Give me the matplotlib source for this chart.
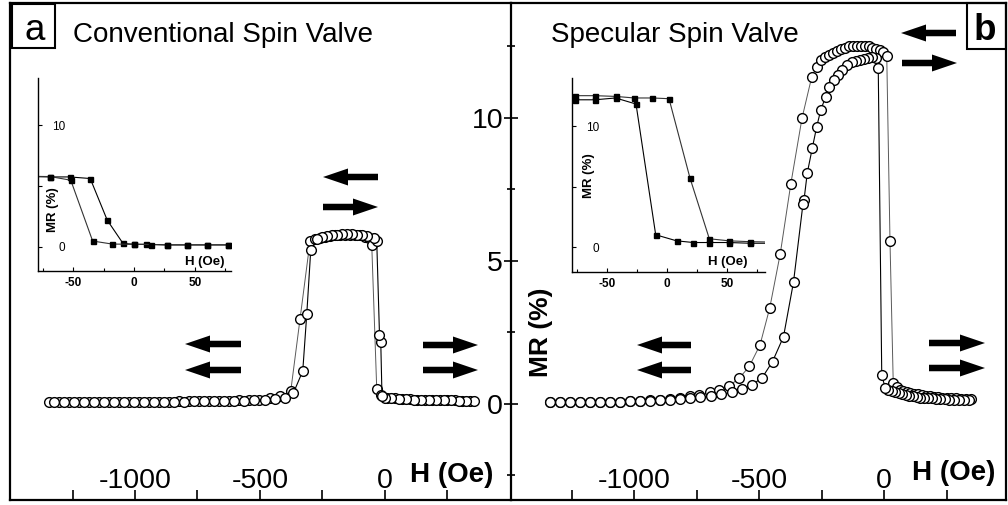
import matplotlib
matplotlib.use("Agg")
import matplotlib.pyplot as plt
from matplotlib.patches import FancyArrow, Rectangle
from matplotlib.transforms import Affine2D

plt.rcParams['font.family'] = ['Liberation Sans', 'DejaVu Sans']

W, H = 1008, 505

# --- panel a: conventional spin valve (main loop) ---
conv_h_up = [-1345, -1305, -1265, -1225, -1185, -1145, -1105, -1065, -1025, -985, -945, -905,
             -865, -825, -785, -745, -705, -665, -625, -585, -545, -505, -460, -420,
             -377, -340, -300,
             -280, -260, -240, -220, -200, -180, -160, -140, -120, -100, -80, -65,
             -53, -33,
             -15, 10, 40, 70, 100, 130, 160, 190, 220, 250, 280, 310, 340]
conv_mr_up = [0.07, 0.07, 0.07, 0.07, 0.07, 0.07, 0.07, 0.07, 0.07, 0.08, 0.08, 0.08,
              0.08, 0.09, 0.09, 0.1, 0.1, 0.11, 0.11, 0.12, 0.13, 0.15, 0.2, 0.26,
              0.45, 2.96, 5.68,
              5.76, 5.81, 5.85, 5.88, 5.9, 5.91, 5.92, 5.92, 5.91, 5.89, 5.85, 5.8,
              5.56, 0.51,
              0.3, 0.22, 0.19, 0.17, 0.16, 0.15, 0.14, 0.13, 0.13, 0.12, 0.12, 0.11, 0.11]
conv_h_down = [355, 325, 295, 265, 235, 205, 175, 145, 115, 85, 55, 25, 0, -12,
               -17, -22, -33,
               -45, -70, -90, -110, -130, -150, -170, -190, -210, -230, -250, -270,
               -297, -313, -329, -367,
               -400, -440, -480, -525, -565, -605, -645, -685, -725, -765, -805, -845,
               -885, -925, -965, -1005, -1045, -1085, -1125, -1165, -1205, -1245, -1285, -1325]
conv_mr_down = [0.1, 0.11, 0.11, 0.12, 0.12, 0.13, 0.13, 0.14, 0.15, 0.16, 0.17, 0.19, 0.22, 0.26,
                2.18, 2.41, 5.68,
                5.8, 5.86, 5.9, 5.92, 5.93, 5.93, 5.93, 5.92, 5.9, 5.87, 5.83, 5.76,
                5.38, 3.13, 1.15, 0.37,
                0.22, 0.17, 0.14, 0.12, 0.11, 0.1, 0.1, 0.09, 0.09, 0.09, 0.08, 0.08,
                0.08, 0.08, 0.07, 0.07, 0.07, 0.07, 0.07, 0.07, 0.07, 0.07, 0.07, 0.07]

# --- panel b: specular spin valve (main loop) ---
spec_h_up = [-1336, -1296, -1256, -1216, -1176, -1136, -1096, -1056, -1016, -976, -936, -896,
             -856, -816, -776, -739, -696, -659, -619, -579, -539,
             -496, -457, -415, -373, -328, -289, -269, -252,
             -235, -219, -203, -188, -172, -157, -141, -125, -109, -94, -78, -62, -47, -32, -17, -3, 11,
             24, 37,
             50, 63, 77, 91, 105, 120, 135, 150, 166, 182, 198, 215, 232, 250, 268, 287, 306, 326, 346]
spec_mr_up = [0.05, 0.05, 0.05, 0.06, 0.06, 0.07, 0.07, 0.08, 0.09, 0.1, 0.12, 0.14,
              0.16, 0.2, 0.26, 0.31, 0.4, 0.49, 0.63, 0.9, 1.31,
              2.06, 3.36, 5.25, 7.68, 9.99, 11.44, 11.79, 12.03,
              12.12, 12.2, 12.28, 12.35, 12.41, 12.46, 12.5, 12.52, 12.53, 12.53, 12.52, 12.5, 12.46,
              12.42, 12.36, 12.3, 12.17,
              5.68, 0.72,
              0.58, 0.5, 0.45, 0.41, 0.38, 0.35, 0.33, 0.31, 0.29, 0.27, 0.25, 0.24, 0.22, 0.21,
              0.2, 0.19, 0.18, 0.17, 0.16]
spec_h_down = [340, 318, 298, 278, 260, 242, 225, 208, 192, 176, 160, 145, 130, 115, 100, 86,
               72, 58, 44, 30, 17, 5,
               -9, -23,
               -32, -47, -63, -80, -96, -112, -129, -149, -169, -185, -200, -220, -233, -253,
               -269, -287, -307, -320, -324,
               -362, -402, -446, -487, -529, -569, -609, -651, -693, -735, -775, -815, -855,
               -895, -935, -975, -1015, -1055, -1095, -1135, -1175, -1215, -1255, -1295, -1335]
spec_mr_down = [0.12, 0.13, 0.13, 0.14, 0.15, 0.16, 0.17, 0.18, 0.19, 0.2, 0.21, 0.22, 0.24,
                0.26, 0.28, 0.3, 0.33, 0.37, 0.41, 0.45, 0.5, 0.55,
                1.01, 11.74,
                12.1, 12.13, 12.1, 12.06, 12.03, 11.99, 11.95, 11.85, 11.68, 11.5, 11.33, 11.1,
                10.75, 10.28, 9.7, 8.94, 8.07, 7.13, 7.0,
                4.26, 2.35, 1.48, 0.92, 0.66, 0.51, 0.4, 0.34, 0.28, 0.23, 0.2, 0.17, 0.15,
                0.13, 0.11, 0.1, 0.09, 0.08, 0.07, 0.07, 0.06, 0.06, 0.05, 0.05, 0.05]

# --- insets: low field minor loops ---
ins_a_h1 = [-86, -69, -53, -36, -22, -9, 0, 10, 27, 44, 60, 77]
ins_a_mr1 = [5.78, 5.75, 5.75, 5.62, 2.19, 0.27, 0.2, 0.2, 0.15, 0.15, 0.15, 0.15]
ins_a_h2 = [-86, -69, -52, -34, -18, 0, 14, 27, 44, 60, 77]
ins_a_mr2 = [5.8, 5.78, 5.48, 0.47, 0.22, 0.2, 0.18, 0.15, 0.15, 0.15, 0.15]

ins_b_h1 = [-90, -76.7, -60, -42.8, -25.8, -9.4, 8, 22, 35.3, 51.7, 69.2, 86]
ins_b_mr1 = [12.2, 12.2, 12.2, 12.35, 11.85, 1.05, 0.55, 0.41, 0.41, 0.41, 0.35, 0.35]
ins_b_h2 = [-90, -76.7, -60, -42.8, -27.2, -12.2, 1.7, 19.2, 35.3, 51.7, 69.2, 86]
ins_b_mr2 = [12.54, 12.54, 12.54, 12.48, 12.35, 12.35, 12.29, 5.73, 0.72, 0.55, 0.48, 0.45]

main_xticks = [-1250, -1000, -750, -500, -250, 0, 250]
main_xlabels = ['', '-1000', '', '-500', '', '0', '']


def box(x0, x1, y0, y1):
    # pixel box (origin top-left) -> figure rect
    return [x0 / W, 1 - y1 / H, (x1 - x0) / W, (y1 - y0) / H]


fig = plt.figure(figsize=(W / 100, H / 100), dpi=100)
fig.patch.set_facecolor('white')
px = Affine2D().scale(1 / W, -1 / H).translate(0, 1) + fig.transFigure

axL = fig.add_axes(box(10, 511, 3, 500))
axR = fig.add_axes(box(511, 1006, 3, 500))
axL.set_xlim(-1500, 504)
axR.set_xlim(-1492, 488)

for ax in (axL, axR):
    ax.set_ylim(-3.36, 14.02)
    for s in ax.spines.values():
        s.set_linewidth(1.6)
    ax.set_xticks(main_xticks)
    ax.set_xticklabels(main_xlabels)
    ax.tick_params(axis='x', direction='in', length=7, width=1.2, pad=-23,
                   labelsize=20.5, top=False)
axL.spines['right'].set_visible(False)
axL.set_yticks([])

axR.set_yticks([0, 5, 10])
axR.set_yticks([-2.5, 2.5, 7.5, 12.5], minor=True)
axR.tick_params(axis='y', which='major', direction='inout', length=9.4, width=1.2,
                pad=1, labelsize=20.5, right=False)
axR.tick_params(axis='y', which='minor', direction='inout', length=5.8, width=1.2, right=False)

loops = [(axL, conv_h_up, conv_mr_up, conv_h_down, conv_mr_down),
         (axR, spec_h_up, spec_mr_up, spec_h_down, spec_mr_down)]
for ax, h1, m1, h2, m2 in loops:
    ax.plot(h1, m1, '-', color='0.35', lw=0.7, marker='o', ms=7,
            mfc='white', mec='black', mew=1.0, zorder=3)
    ax.plot(h2, m2, '-', color='black', lw=0.8, marker='o', ms=7,
            mfc='white', mec='black', mew=1.0, zorder=3)

# axis texts
axL.text(410, 481.7, 'H (Oe)', transform=px, fontsize=20, fontweight='bold', va='baseline')
axR.text(912, 480, 'H (Oe)', transform=px, fontsize=20, fontweight='bold', va='baseline')
axR.text(541, 332, 'MR (%)', transform=px, fontsize=19, fontweight='bold',
         rotation=90, ha='center', va='center')
axL.text(73, 41.7, 'Conventional Spin Valve', transform=px, fontsize=20, va='baseline')
axR.text(551, 41.7, 'Specular Spin Valve', transform=px, fontsize=20, va='baseline')

# panel letters
fig.add_artist(Rectangle((12, 4), 43, 44, transform=px, fill=False, lw=1.5, ec='black'))
fig.add_artist(Rectangle((967, 3), 39, 46, transform=px, fill=False, lw=1.5, ec='black'))
fig.text(35, 40, 'a', transform=px, fontsize=26.5, ha='center', va='baseline')
fig.text(985, 40, 'b', transform=px, fontsize=26.5, fontweight='bold', ha='center', va='baseline')


# magnetisation arrows
def arrow(x_tail, x_tip, y):
    fig.add_artist(FancyArrow(x_tail, y, x_tip - x_tail, 0, width=6.5, head_width=17,
                              head_length=25, length_includes_head=True,
                              transform=px, color='black', lw=0))


arrow(378, 323, 177)
arrow(323, 378, 207)
arrow(241, 185, 344)
arrow(241, 185, 370)
arrow(423, 478, 345)
arrow(423, 478, 370)
arrow(956, 901, 33)
arrow(902, 957, 63)
arrow(691, 637, 345)
arrow(691, 637, 370)
arrow(929, 985, 343)
arrow(929, 985, 368)

# insets
insets = [(box(38.3, 231, 78, 271), (-78.7, 79.8), (-2, 13.9), ins_a_h1, ins_a_mr1,
           ins_a_h2, ins_a_mr2, (0.076, 0.316), (0.865, 0.048)),
          (box(572.3, 765, 78, 271.7), (-78.9, 81.7), (-2, 14), ins_b_h1, ins_b_mr1,
           ins_b_h2, ins_b_mr2, (0.087, 0.494), (0.805, 0.052))]
for rect, xl, yl, h1, m1, h2, m2, mr_pos, h_pos in insets:
    ins = fig.add_axes(rect)
    ins.set_facecolor('none')
    ins.spines['top'].set_visible(False)
    ins.spines['right'].set_visible(False)
    for s in ('left', 'bottom'):
        ins.spines[s].set_linewidth(1.0)
    ins.set_xlim(*xl)
    ins.set_ylim(*yl)
    ins.set_xticks([-50, 0, 50])
    ins.set_xticklabels(['-50', '0', '50'], fontweight='bold')
    ins.set_xticks([-75, -25, 25, 75], minor=True)
    ins.set_yticks([0, 5, 10])
    ins.set_yticklabels(['0', '', '10'])
    ins.tick_params(axis='x', which='major', direction='in', length=3, width=0.8,
                    labelsize=8.5, pad=4.5)
    ins.tick_params(axis='x', which='minor', direction='in', length=2, width=0.8)
    ins.tick_params(axis='y', direction='in', length=3, width=0.8, labelsize=8.5, pad=-19.5)
    ins.plot(h1, m1, '-', color='black', lw=0.8, marker='s', ms=3.6, mfc='black', mec='black')
    ins.plot(h2, m2, '-', color='0.2', lw=0.8, marker='s', ms=3.6, mfc='black', mec='black')
    ins.text(mr_pos[0], mr_pos[1], 'MR (%)', transform=ins.transAxes, fontsize=9.5,
             fontweight='bold', rotation=90, ha='center', va='center')
    ins.text(h_pos[0], h_pos[1], 'H (Oe)', transform=ins.transAxes, fontsize=9.5,
             fontweight='bold', ha='center', va='center')

fig.savefig('out.png', dpi=100)
plt.close(fig)
